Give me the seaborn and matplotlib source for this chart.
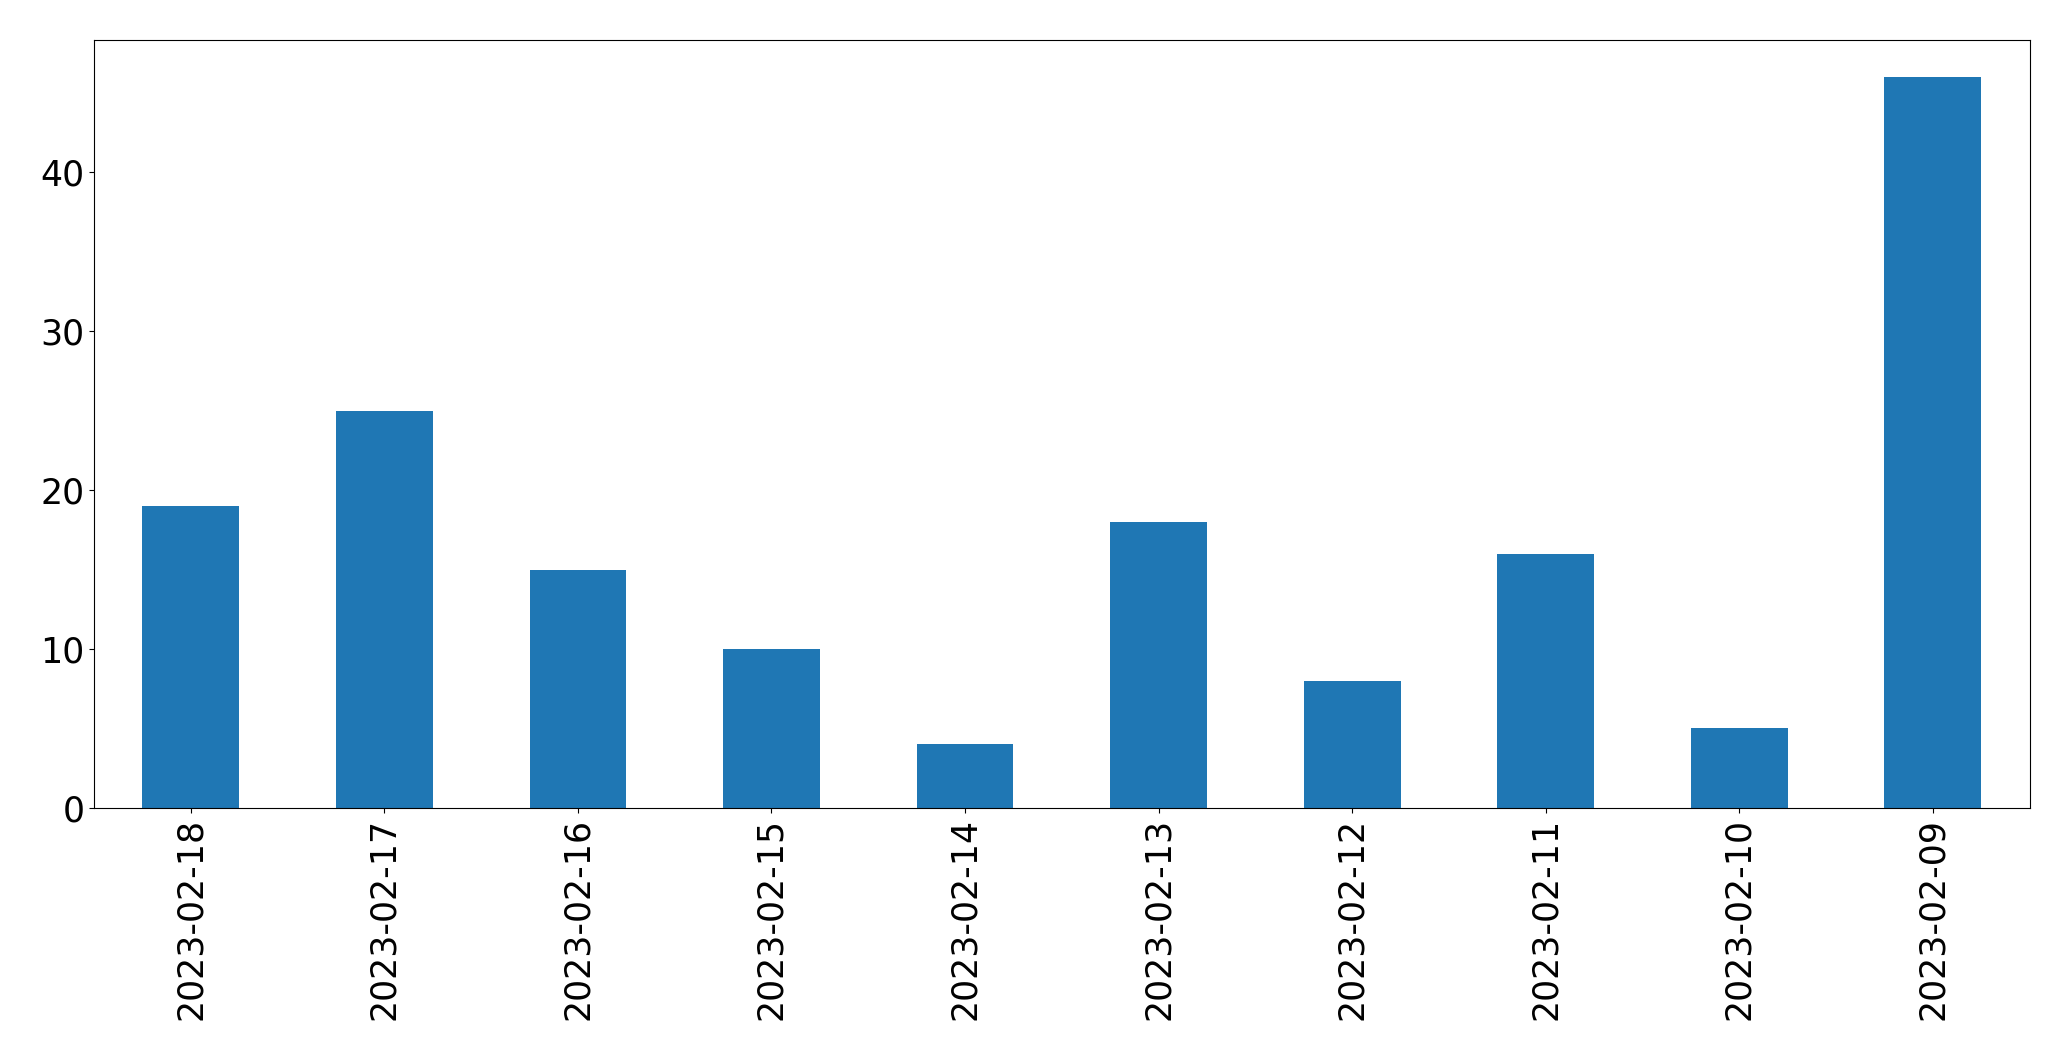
import matplotlib
matplotlib.use("Agg")
import matplotlib.pyplot as plt
import seaborn as sns
import pandas as pd

dates = ["2023-02-18", "2023-02-17", "2023-02-16", "2023-02-15", "2023-02-14",
         "2023-02-13", "2023-02-12", "2023-02-11", "2023-02-10", "2023-02-09"]
counts = [19, 25, 15, 10, 4, 18, 8, 16, 5, 46]

df = pd.DataFrame({"date": dates, "count": counts})

fig = plt.figure(figsize=(20.71, 10.61), dpi=100)
ax = fig.add_axes([0.0454, 0.2385, 0.9346, 0.7235])
sns.barplot(data=df, x="date", y="count", order=dates, color="#1f77b4",
            saturation=1, width=0.5, ax=ax)
ax.set_xlim(-0.5, len(dates) - 0.5)
ax.set_ylim(0, max(counts) * 1.05)
ax.set_xlabel("")
ax.set_ylabel("")
ax.tick_params(axis="both", labelsize=25)
ax.tick_params(axis="x", labelrotation=90)
fig.savefig("out.png", dpi=100)
